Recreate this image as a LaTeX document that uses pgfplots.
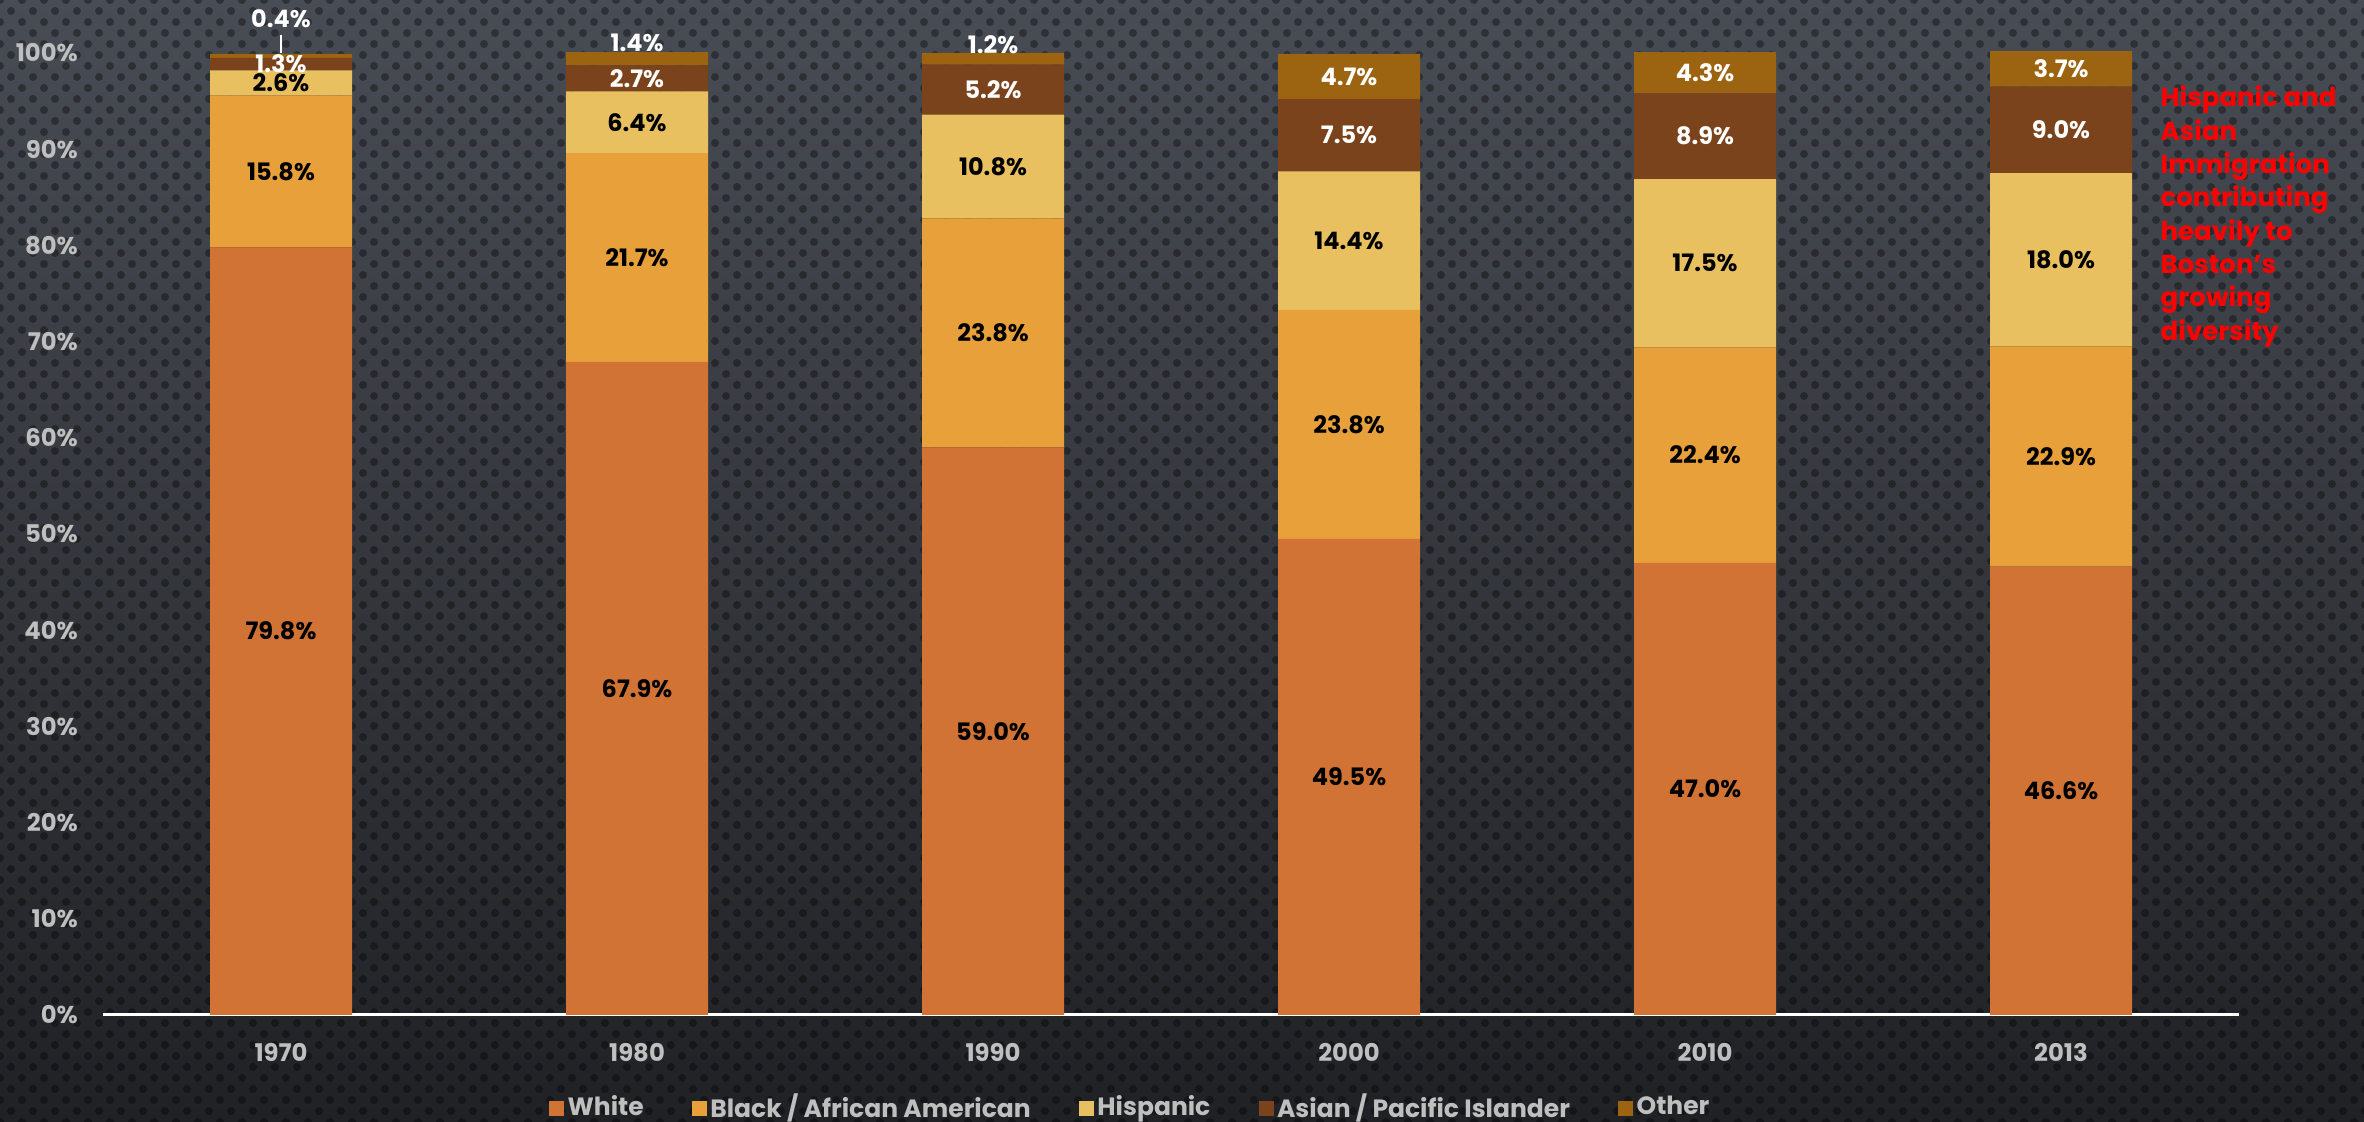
\documentclass[border=0pt]{standalone}
\usepackage{pgfplots}
\pgfplotsset{compat=1.18}
\usepackage{pgfplotstable}
\usepackage{fontspec}
\setmainfont{Poppins}
\usetikzlibrary{patterns.meta}
\definecolor{cWhite}{HTML}{D07335}
\definecolor{cBlack}{HTML}{E8A03A}
\definecolor{cHisp}{HTML}{E8C060}
\definecolor{cAsian}{HTML}{7B431C}
\definecolor{cOther}{HTML}{9C6410}
\definecolor{bgTop}{HTML}{484C54}
\definecolor{bgBot}{HTML}{202125}
\definecolor{tickgray}{HTML}{BFBFBF}

\pgfplotstableread{
x year W B H A O
0 1970 79.8 15.8 2.6 1.3 0.4
1 1980 67.9 21.7 6.4 2.7 1.4
2 1990 59.0 23.8 10.8 5.2 1.2
3 2000 49.5 23.8 14.4 7.5 4.7
4 2010 47.0 22.4 17.5 8.9 4.3
5 2013 46.6 22.9 18.0 9.0 3.7
}\data

\pgfplotsset{
  lbl/.style={only marks, mark=none, point meta=explicit,
    nodes near coords={\pgfmathprintnumber[assume math mode=true,fixed,fixed zerofill,precision=1]{\pgfplotspointmeta}\%},
    nodes near coords align=center,
    every node near coord/.append style={font=\bfseries\fontsize{7.2}{8}\selectfont, text=#1, inner sep=0pt}},
  common/.style={at={(30.9pt,32.1pt)}, anchor=south west,
    scale only axis, width=640.8pt, height=288.6pt,
    xmin=-0.5, xmax=5.5, ymin=0, ymax=100, clip=false}
}

\begin{document}
\begin{tikzpicture}
\shade[top color=bgTop, bottom color=bgBot] (0pt,0pt) rectangle (709.2pt,336.6pt);
\fill[pattern={Dots[distance=6.6pt, radius=1.2pt]}, pattern color=black, opacity=0.35] (0pt,0pt) rectangle (709.2pt,336.6pt);
\fill[pattern={Dots[distance=6.6pt, radius=1.2pt, xshift=3.3pt, yshift=3.3pt]}, pattern color=black, opacity=0.35] (0pt,0pt) rectangle (709.2pt,336.6pt);
\begin{axis}[common,
  ybar stacked, bar width=42.6pt,
  axis x line*=bottom, axis y line*=left,
  y axis line style={draw=none},
  x axis line style={white, line width=0.9pt, -},
  major tick length=0pt,
  xtick={0,1,2,3,4,5},
  xticklabels={1970,1980,1990,2000,2010,2013},
  ytick={0,10,...,100},
  yticklabel={\pgfmathprintnumber{\tick}\%},
  /pgf/number format/assume math mode=true,
  ticklabel style={font=\bfseries\fontsize{7.3}{8}\selectfont, text=tickgray},
  yticklabel style={xshift=-4pt},
  xticklabel style={yshift=-5pt},
  legend columns=5,
  legend style={at={(0.4813,-0.0967)}, anchor=center, draw=none, fill=none,
    font=\bfseries\fontsize{7.5}{8}\selectfont, text=tickgray,
    /tikz/every even column/.append style={column sep=13.5pt},
    inner sep=0pt,
    nodes={inner sep=1pt}},
  legend image code/.code={\fill[#1] (0pt,-2.25pt) rectangle (4.5pt,2.25pt);},
]
\addplot[fill=cWhite, draw=none] table[x=x, y=W]{\data};
\addplot[fill=cBlack, draw=none] table[x=x, y=B]{\data};
\addplot[fill=cHisp, draw=none] table[x=x, y=H]{\data};
\addplot[fill=cAsian, draw=none] table[x=x, y=A]{\data};
\addplot[fill=cOther, draw=none] table[x=x, y=O]{\data};
\legend{White, Black / African American, Hispanic, Asian / Pacific Islander, Other}
\end{axis}
\begin{axis}[common, hide axis]
\addplot[lbl=black] table[x=x, y expr=\thisrow{W}/2, meta=W]{\data};
\addplot[lbl=black] table[x=x, y expr=\thisrow{W}+\thisrow{B}/2, meta=B]{\data};
\addplot[lbl=black] table[x=x, y expr=\thisrow{W}+\thisrow{B}+\thisrow{H}/2, meta=H]{\data};
\addplot[lbl=white] table[x=x, y expr=\thisrow{W}+\thisrow{B}+\thisrow{H}+\thisrow{A}/2, meta=A]{\data};
\addplot[lbl=white, restrict x to domain=2.5:5.5] table[x=x, y expr=\thisrow{W}+\thisrow{B}+\thisrow{H}+\thisrow{A}+\thisrow{O}/2, meta=O]{\data};
\addplot[lbl=white, restrict x to domain=0.5:2.5] table[x=x, y expr=\thisrow{W}+\thisrow{B}+\thisrow{H}+\thisrow{A}+\thisrow{O}+0.9, meta=O]{\data};
\addplot[lbl=white, restrict x to domain=-0.5:0.5] table[x=x, y expr=103.6, meta=O]{\data};
\addplot[white, line width=0.6pt, mark=none] coordinates {(0,100) (0,101.9)};
\end{axis}
\node[anchor=north west, inner sep=0pt, align=left, text=red,
  font=\bfseries\fontsize{7.8}{10}\selectfont] at (648pt,311pt)
  {Hispanic and\\Asian\\Immigration\\contributing\\heavily to\\Boston’s\\growing\\diversity};
\pgfresetboundingbox
\useasboundingbox (0pt,0pt) rectangle (709.2pt,336.6pt);
\end{tikzpicture}
\end{document}
